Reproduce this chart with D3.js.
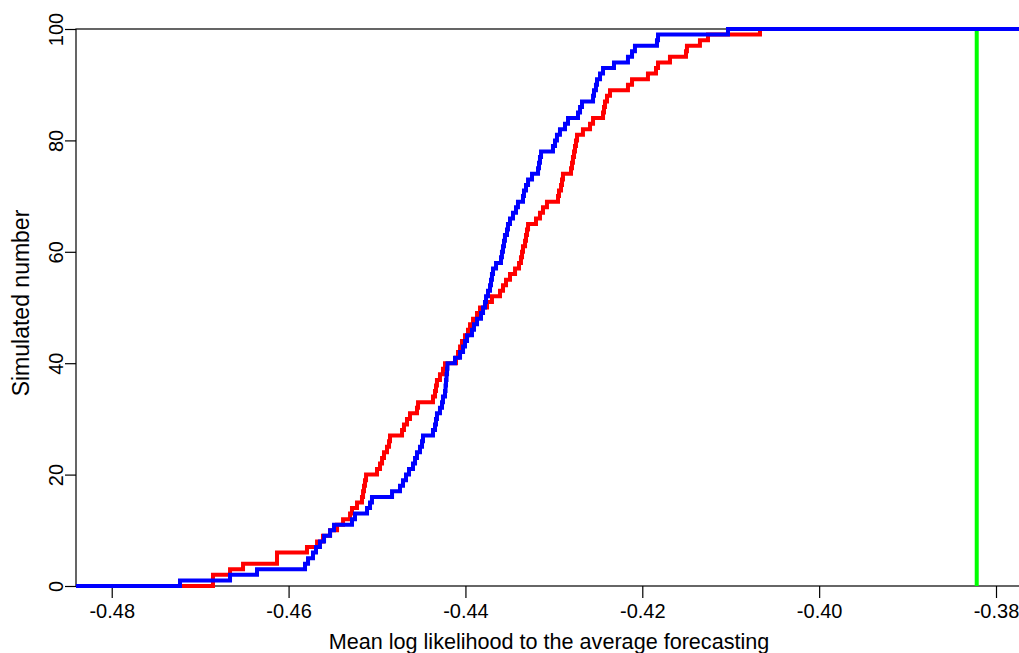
<!DOCTYPE html>
<html>
<head>
<meta charset="utf-8">
<script src="https://cdn.jsdelivr.net/npm/d3@7"></script>
<style>
  html, body { margin: 0; padding: 0; background: #ffffff; overflow: hidden; }
  svg { display: block; }
  text { font-family: "Liberation Sans", Arial, sans-serif; fill: #000; }
</style>
</head>
<body>
<svg id="chart" width="1019" height="653"></svg>
<script>
// ---- data (sorted simulated values; empirical CDF as counts) ----
const redValues = [
  -0.46855, -0.46855, -0.46662, -0.46515, -0.46131, -0.46131, -0.45792, -0.45678, -0.45611, -0.45531,
  -0.45452, -0.45384, -0.45305, -0.45283, -0.45226, -0.45170, -0.45158, -0.45147, -0.45136, -0.45124,
  -0.45000, -0.44966, -0.44943, -0.44921, -0.44887, -0.44864, -0.44853, -0.44717, -0.44695, -0.44661,
  -0.44627, -0.44548, -0.44536, -0.44367, -0.44344, -0.44333, -0.44322, -0.44288, -0.44254, -0.44231,
  -0.44107, -0.44084, -0.44061, -0.44039, -0.44005, -0.43971, -0.43948, -0.43914, -0.43869, -0.43835,
  -0.43756, -0.43700, -0.43609, -0.43575, -0.43541, -0.43496, -0.43439, -0.43394, -0.43372, -0.43360,
  -0.43349, -0.43326, -0.43315, -0.43304, -0.43292, -0.43202, -0.43157, -0.43123, -0.43078, -0.42953,
  -0.42942, -0.42919, -0.42908, -0.42897, -0.42806, -0.42795, -0.42784, -0.42772, -0.42761, -0.42750,
  -0.42738, -0.42671, -0.42591, -0.42557, -0.42444, -0.42433, -0.42422, -0.42399, -0.42365, -0.42162,
  -0.42116, -0.41936, -0.41845, -0.41822, -0.41687, -0.41506, -0.41495, -0.41348, -0.41257, -0.40669
];
const blueValues = [
  -0.47228, -0.46662, -0.46357, -0.45814, -0.45780, -0.45724, -0.45690, -0.45645, -0.45599, -0.45531,
  -0.45486, -0.45283, -0.45249, -0.45113, -0.45079, -0.45057, -0.44830, -0.44740, -0.44706, -0.44672,
  -0.44638, -0.44593, -0.44570, -0.44548, -0.44514, -0.44491, -0.44480, -0.44367, -0.44344, -0.44333,
  -0.44322, -0.44288, -0.44265, -0.44254, -0.44231, -0.44225, -0.44220, -0.44214, -0.44208, -0.44203,
  -0.44118, -0.44061, -0.44027, -0.44005, -0.43982, -0.43926, -0.43903, -0.43869, -0.43824, -0.43801,
  -0.43779, -0.43767, -0.43745, -0.43722, -0.43711, -0.43700, -0.43688, -0.43654, -0.43598, -0.43587,
  -0.43575, -0.43564, -0.43553, -0.43530, -0.43519, -0.43496, -0.43462, -0.43428, -0.43406, -0.43349,
  -0.43338, -0.43315, -0.43292, -0.43247, -0.43179, -0.43168, -0.43157, -0.43145, -0.43010, -0.42987,
  -0.42965, -0.42931, -0.42874, -0.42840, -0.42727, -0.42704, -0.42682, -0.42557, -0.42546, -0.42524,
  -0.42512, -0.42478, -0.42444, -0.42320, -0.42162, -0.42116, -0.42083, -0.41834, -0.41822, -0.41031
];
const observedValue = -0.38218;
const xDomain = [-0.48404, -0.37706];
const yDomain = [0, 100];
const xTickValues = [-0.48, -0.46, -0.44, -0.42, -0.40, -0.38];
const xTickLabels = ["-0.48", "-0.46", "-0.44", "-0.42", "-0.40", "-0.38"];
const yTickValues = [0, 20, 40, 60, 80, 100];
const yTickLabels = ["0", "20", "40", "60", "80", "100"];
const xTitle = "Mean log likelihood to the average forecasting";
const yTitle = "Simulated number";

(function () {
  const svg = d3.select("#chart");
  const pLeft = 76, pRight = 1022, pTop = 29, pBottom = 586;
  const x = d3.scaleLinear().domain(xDomain).range([pLeft, pRight]);
  const y = d3.scaleLinear().domain(yDomain).range([pBottom, pTop]);

  // box
  svg.append("rect")
    .attr("x", pLeft).attr("y", pTop)
    .attr("width", pRight - pLeft).attr("height", pBottom - pTop)
    .attr("fill", "none").attr("stroke", "#000").attr("stroke-width", 1.2);

  // x axis ticks
  const xAxis = d3.axisBottom(x)
    .tickValues(xTickValues)
    .tickFormat((d, i) => xTickLabels[i])
    .tickSize(12).tickPadding(6).tickSizeOuter(0);
  const gx = svg.append("g").attr("transform", `translate(0,${pBottom})`).call(xAxis);
  gx.select(".domain").remove();
  gx.selectAll(".tick line").attr("stroke", "#000").attr("stroke-width", 1.2);
  gx.selectAll(".tick text").attr("font-size", 20).attr("y", 32).attr("dy", null);

  // y axis ticks
  const yAxis = d3.axisLeft(y)
    .tickValues(yTickValues)
    .tickFormat((d, i) => yTickLabels[i])
    .tickSize(11).tickSizeOuter(0);
  const gy = svg.append("g").attr("transform", `translate(${pLeft},0)`).call(yAxis);
  gy.select(".domain").remove();
  gy.selectAll(".tick line").attr("stroke", "#000").attr("stroke-width", 1.2);
  gy.selectAll(".tick text")
    .attr("font-size", 20).attr("x", null).attr("y", null).attr("dy", null)
    .attr("text-anchor", "middle")
    .attr("transform", "translate(-13,0) rotate(-90)");

  // titles
  svg.append("text").attr("x", 549).attr("y", 649)
    .attr("text-anchor", "middle").attr("font-size", 21.6).text(xTitle);
  svg.append("text").attr("transform", `translate(29,303) rotate(-90)`)
    .attr("text-anchor", "middle").attr("font-size", 23).text(yTitle);

  // observed value line
  svg.append("line")
    .attr("x1", x(observedValue)).attr("x2", x(observedValue))
    .attr("y1", y(0)).attr("y2", y(100))
    .attr("stroke", "#00ff00").attr("stroke-width", 4);

  // ecdf step lines
  function ecdfPoints(vals) {
    const s = vals.slice().sort(d3.ascending);
    const pts = [[xDomain[0], 0]];
    s.forEach((v, i) => pts.push([v, i + 1]));
    pts.push([xDomain[1], s.length]);
    return pts;
  }
  const line = d3.line().x(d => x(d[0])).y(d => y(d[1])).curve(d3.curveStepAfter);
  svg.append("path").datum(ecdfPoints(redValues)).attr("d", line)
    .attr("fill", "none").attr("stroke", "#ff0000").attr("stroke-width", 4);
  svg.append("path").datum(ecdfPoints(blueValues)).attr("d", line)
    .attr("fill", "none").attr("stroke", "#0000ff").attr("stroke-width", 4);
})();
</script>
</body>
</html>
